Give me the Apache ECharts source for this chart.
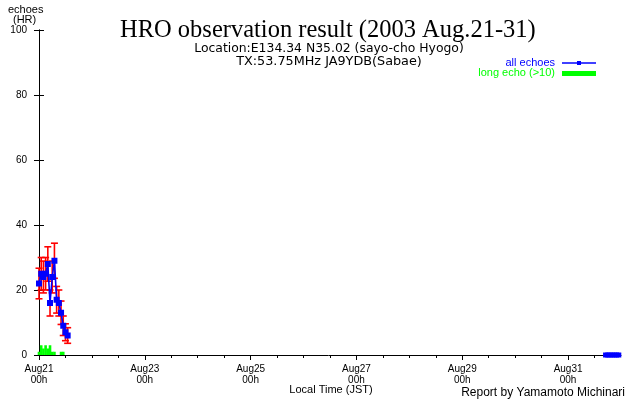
<!DOCTYPE html>
<html>
<head>
<meta charset="utf-8">
<script src="https://cdn.jsdelivr.net/npm/echarts@6/dist/echarts.min.js"></script>
<style>
html,body{margin:0;padding:0;background:#fff;}
#chart{width:640px;height:400px;}
</style>
</head>
<body>
<div id="chart"></div>
<script>
// Hours counted from Aug21 00h (JST)
const echoHours = [0,1,2,3,4,5,6,7,8,9,10,11,12,13];
const echoCounts = [22,25,24,25,28,16,24,29,17,16,13,9,7,6];
const echoErrors = [4.7,5.0,4.9,5.0,5.3,4.0,4.9,5.4,4.1,4.0,3.6,3.0,2.6,2.4];
const longHours = [0,1,2,3,4,5,6,7,10,11];
const longCounts = [1,3,2,3,2,3,1,1,1,1];
const tailHours = [257,258,259,260,261,262,263];
const tailCounts = [0,0,0,0,0,0,0];
const majorTickHours = [0,48,96,144,192,240];
const majorTickLabels = ['Aug21\n00h','Aug23\n00h','Aug25\n00h','Aug27\n00h','Aug29\n00h','Aug31\n00h'];
const minorTickHours = [0,12,24,36,48,60,72,84,96,108,120,132,144,156,168,180,192,204,216,228,240,252];

const FONT = 'Liberation Sans';
const chart = echarts.init(document.getElementById('chart'));

const echoData = echoHours.map((h,i)=>[h, echoCounts[i]]);
const errData = echoHours.map((h,i)=>[h, echoCounts[i]-echoErrors[i], echoCounts[i]+echoErrors[i]]);
const longData = longHours.map((h,i)=>[h, longCounts[i]]);
const tailData = tailHours.map((h,i)=>[h, tailCounts[i]]);

const xMin = -1.36, xMax = 264;

chart.setOption({
  animation: false,
  backgroundColor: '#fff',
  title: {
    text: 'HRO observation result (2003 Aug.21-31)',
    left: 120,
    top: 18,
    padding: 0,
    textStyle: {fontFamily: 'Liberation Serif', fontSize: 24.5, fontWeight: 'normal', color: '#000'}
  },
  grid: {left: 36, right: 19, top: 30, bottom: 45, containLabel: false},
  xAxis: [{
    type: 'value', min: xMin, max: xMax,
    axisLine: {show: true, onZero: false, lineStyle: {color: '#000', width: 1}},
    axisTick: {show: true, length: 5, customValues: majorTickHours, lineStyle: {color: '#000'}},
    axisLabel: {
      show: true, customValues: majorTickHours, margin: 9,
      fontFamily: FONT, fontSize: 10, color: '#000', lineHeight: 10.5,
      formatter: v => majorTickLabels[majorTickHours.indexOf(v)] || ''
    },
    splitLine: {show: false}
  }, {
    type: 'value', min: xMin, max: xMax, position: 'bottom',
    axisLine: {show: false, onZero: false},
    axisTick: {show: true, length: 3, customValues: minorTickHours, lineStyle: {color: '#000'}},
    axisLabel: {show: false},
    splitLine: {show: false}
  }],
  yAxis: [{
    type: 'value', min: 0, max: 100, interval: 20, position: 'left',
    axisLine: {show: true, lineStyle: {color: '#000', width: 1}},
    axisTick: {show: true, length: 5, lineStyle: {color: '#000'}},
    axisLabel: {fontFamily: FONT, fontSize: 10, color: '#000', margin: 9},
    splitLine: {show: false}
  }, {
    type: 'value', min: 0, max: 100, interval: 20, position: 'right',
    axisLine: {show: true, lineStyle: {color: '#000', width: 1}},
    axisTick: {show: true, length: 5, lineStyle: {color: '#000'}},
    axisLabel: {show: false},
    splitLine: {show: false}
  }],
  series: [{
    type: 'bar', name: 'long echo (>10)', data: longData, barWidth: 2.6,
    itemStyle: {color: '#00ff00'}, z: 1
  }, {
    type: 'custom', name: 'errors', data: errData, z: 2,
    renderItem: function(params, api){
      const x = api.value(0), lo = api.value(1), hi = api.value(2);
      const p1 = api.coord([x, lo]), p2 = api.coord([x, hi]);
      const st = {stroke: '#ff0000', lineWidth: 1.6};
      return {type: 'group', children: [
        {type: 'line', shape: {x1: p1[0], y1: p1[1], x2: p2[0], y2: p2[1]}, style: st},
        {type: 'line', shape: {x1: p1[0]-3.5, y1: p1[1], x2: p1[0]+3.5, y2: p1[1]}, style: st},
        {type: 'line', shape: {x1: p2[0]-3.5, y1: p2[1], x2: p2[0]+3.5, y2: p2[1]}, style: st}
      ]};
    }
  }, {
    type: 'line', name: 'all echoes', data: echoData, z: 3,
    symbol: 'rect', symbolSize: 6, showSymbol: true,
    lineStyle: {color: '#0000ff', width: 1.6},
    itemStyle: {color: '#0000ff'}
  }, {
    type: 'line', name: 'all echoes tail', data: tailData, z: 3, clip: false,
    symbol: 'rect', symbolSize: 5, showSymbol: true,
    lineStyle: {color: '#0000ff', width: 3},
    itemStyle: {color: '#0000ff'}
  }],
  graphic: [
    {type: 'text', left: 8, top: 4, style: {text: 'echoes', font: '11px ' + FONT, fill: '#000'}},
    {type: 'text', left: 13, top: 14, style: {text: '(HR)', font: '11px ' + FONT, fill: '#000'}},
    {type: 'text', x: 329, y: 49, style: {text: 'Location:E134.34 N35.02 (sayo-cho Hyogo)', font: '12.4px DejaVu Sans', fill: '#000', align: 'center', verticalAlign: 'middle'}},
    {type: 'text', x: 329, y: 62, style: {text: 'TX:53.75MHz JA9YDB(Sabae)', font: '12.8px DejaVu Sans', fill: '#000', align: 'center', verticalAlign: 'middle'}},
    {type: 'text', x: 555, y: 63, style: {text: 'all echoes', font: '11px ' + FONT, fill: '#0000ff', align: 'right', verticalAlign: 'middle'}},
    {type: 'line', shape: {x1: 562, y1: 63, x2: 596, y2: 63}, style: {stroke: '#0000ff', lineWidth: 1.5}},
    {type: 'rect', shape: {x: 577, y: 61, width: 4, height: 4}, style: {fill: '#0000ff'}},
    {type: 'text', x: 555, y: 73, style: {text: 'long echo (>10)', font: '11px ' + FONT, fill: '#00ff00', align: 'right', verticalAlign: 'middle'}},
    {type: 'rect', shape: {x: 562, y: 71, width: 34, height: 5}, style: {fill: '#00ff00'}},
    {type: 'text', x: 331, y: 389.5, style: {text: 'Local Time (JST)', font: '11px ' + FONT, fill: '#000', align: 'center', verticalAlign: 'middle'}},
    {type: 'text', x: 625, y: 393, style: {text: 'Report by Yamamoto Michinari', font: '12px ' + FONT, fill: '#000', align: 'right', verticalAlign: 'middle'}}
  ]
});
</script>
</body>
</html>
